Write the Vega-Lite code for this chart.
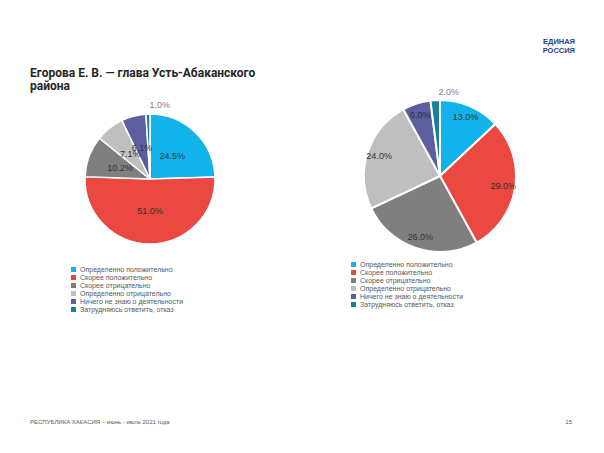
{
  "$schema": "https://vega.github.io/schema/vega-lite/v6.json",
  "background": "white",
  "padding": {"left": 30, "top": 38, "right": 0, "bottom": 0},
  "config": {"view": {"stroke": null}, "font": "Liberation Sans"},
  "title": {"text": ["ЕДИНАЯ", "РОССИЯ"], "anchor": "end", "fontSize": 7.5, "fontWeight": "bold", "color": "#1f3f8f", "lineHeight": 8.5, "offset": 13, "dx": 3, "font": "Liberation Sans"},
  "datasets": {
    "left": [
      {"category": "Определенно положительно", "n": 1, "share": 0.245},
      {"category": "Скорее положительно", "n": 2, "share": 0.51},
      {"category": "Скорее отрицательно", "n": 3, "share": 0.102},
      {"category": "Определенно отрицательно", "n": 4, "share": 0.071},
      {"category": "Ничего не знаю о деятельности", "n": 5, "share": 0.061},
      {"category": "Затрудняюсь ответить, отказ", "n": 6, "share": 0.01}
    ],
    "right": [
      {"category": "Определенно положительно", "n": 1, "share": 0.13},
      {"category": "Скорее положительно", "n": 2, "share": 0.29},
      {"category": "Скорее отрицательно", "n": 3, "share": 0.26},
      {"category": "Определенно отрицательно", "n": 4, "share": 0.24},
      {"category": "Ничего не знаю о деятельности", "n": 5, "share": 0.06},
      {"category": "Затрудняюсь ответить, отказ", "n": 6, "share": 0.02}
    ]
  },
  "resolve": {"scale": {"color": "independent", "theta": "independent"}},
  "vconcat": [
    {
      "title": {"text": ["Егорова Е. В. — глава Усть-Абаканского", "района"], "anchor": "start", "fontSize": 12, "fontWeight": "bold", "color": "#262626", "lineHeight": 13, "offset": -5, "font": "Roboto"},
      "spacing": 50,
      "resolve": {"scale": {"color": "independent", "theta": "independent"}},
      "hconcat": [
        {
          "width": 240,
          "height": 156,
          "data": {"name": "left"},
          "title": {"text": "РЕСПУБЛИКА ХАКАСИЯ – июнь - июль 2021 года", "orient": "bottom", "anchor": "start", "fontSize": 6, "fontWeight": "normal", "color": "#595959", "offset": 106},
          "encoding": {
            "theta": {"field": "share", "type": "quantitative", "stack": true},
            "order": {"field": "n", "type": "quantitative"},
            "color": {
              "field": "category", "type": "nominal",
              "scale": {
                "domain": ["Определенно положительно", "Скорее положительно", "Скорее отрицательно", "Определенно отрицательно", "Ничего не знаю о деятельности", "Затрудняюсь ответить, отказ"],
                "range": ["#12b3ea", "#ea4840", "#7f7f7f", "#bfbfbf", "#5b5ea0", "#1a7f9b"]
              },
              "legend": {"orient": "none", "legendX": 40, "legendY": 165, "title": null, "symbolType": "square", "symbolSize": 25, "symbolStrokeWidth": 0, "labelFontSize": 7, "labelColor": "#595959", "rowPadding": 0, "labelOffset": 3, "labelLimit": 300}
            }
          },
          "layer": [
            {"mark": {"type": "arc", "outerRadius": 65, "stroke": "white", "strokeWidth": 1.5}},
            {
              "mark": {"type": "text", "radius": 32, "fontSize": 9},
              "encoding": {
                "text": {"field": "share", "type": "quantitative", "format": ".1%"},
                "color": {"value": "#333333"},
                "opacity": {"condition": {"test": "datum.share >= 0.03", "value": 1}, "value": 0}
              }
            },
            {
              "mark": {"type": "text", "radius": 74, "dx": 12, "fontSize": 9},
              "encoding": {
                "text": {"field": "share", "type": "quantitative", "format": ".1%"},
                "color": {"value": "#808080"},
                "opacity": {"condition": {"test": "datum.share < 0.03", "value": 1}, "value": 0}
              }
            }
          ]
        },
        {
          "width": 240,
          "height": 150,
          "data": {"name": "right"},
          "title": {"text": "15", "orient": "bottom", "anchor": "end", "fontSize": 6, "fontWeight": "normal", "color": "#595959", "offset": 111, "dx": 12},
          "encoding": {
            "theta": {"field": "share", "type": "quantitative", "stack": true},
            "order": {"field": "n", "type": "quantitative"},
            "color": {
              "field": "category", "type": "nominal",
              "scale": {
                "domain": ["Определенно положительно", "Скорее положительно", "Скорее отрицательно", "Определенно отрицательно", "Ничего не знаю о деятельности", "Затрудняюсь ответить, отказ"],
                "range": ["#12b3ea", "#ea4840", "#7f7f7f", "#bfbfbf", "#5b5ea0", "#1a7f9b"]
              },
              "legend": {"orient": "none", "legendX": 30, "legendY": 160, "title": null, "symbolType": "square", "symbolSize": 25, "symbolStrokeWidth": 0, "labelFontSize": 7, "labelColor": "#595959", "rowPadding": 0, "labelOffset": 3, "labelLimit": 300}
            }
          },
          "layer": [
            {"mark": {"type": "arc", "outerRadius": 76, "stroke": "white", "strokeWidth": 2}},
            {
              "mark": {"type": "text", "radius": 64, "fontSize": 9},
              "encoding": {
                "text": {"field": "share", "type": "quantitative", "format": ".1%"},
                "color": {"value": "#333333"},
                "opacity": {"condition": {"test": "datum.share >= 0.03", "value": 1}, "value": 0}
              }
            },
            {
              "mark": {"type": "text", "radius": 84, "dx": 14, "fontSize": 9},
              "encoding": {
                "text": {"field": "share", "type": "quantitative", "format": ".1%"},
                "color": {"value": "#808080"},
                "opacity": {"condition": {"test": "datum.share < 0.03", "value": 1}, "value": 0}
              }
            }
          ]
        }
      ]
    }
  ]
}
